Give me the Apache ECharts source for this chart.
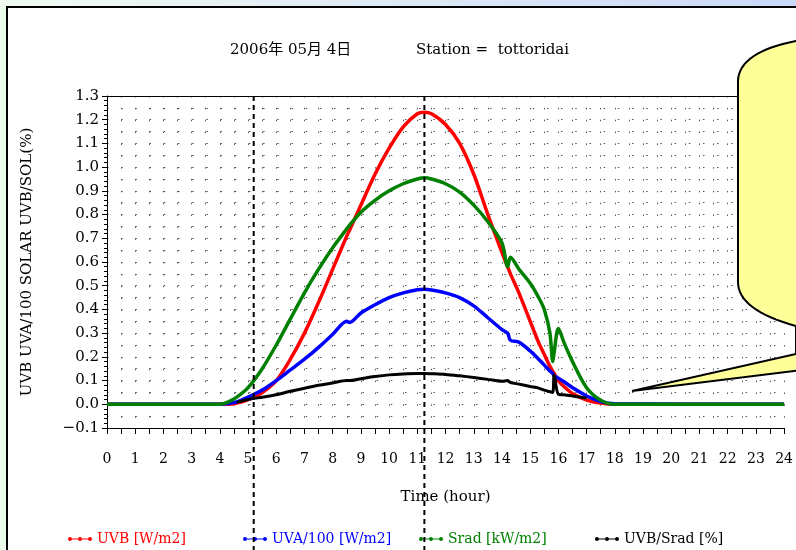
<!DOCTYPE html>
<html>
<head>
<meta charset="utf-8">
<script src="https://cdn.jsdelivr.net/npm/echarts@6.0.0/dist/echarts.min.js"></script>
<style>
  html, body { margin: 0; padding: 0; width: 796px; height: 550px; overflow: hidden; background: #eafbe9; }
  #topStrip { position: absolute; left: 0; top: 0; width: 796px; height: 6px;
    background: linear-gradient(to right, #f2fbf2, #c9d8f8); }
  #frame { position: absolute; left: 6px; top: 6px; width: 800px; height: 560px;
    border-left: 2px solid #000; border-top: 2px solid #000; background: #fff; }
  #chart { position: absolute; left: 0; top: 0; width: 796px; height: 550px; }
</style>
</head>
<body>
<div id="topStrip"></div>
<div id="frame"></div>
<div id="chart"></div>
<script>
// time of day (hour)
const hours = [0, 4, 4.3, 4.6, 5, 5.5, 6, 6.5, 7, 7.5, 8, 8.5, 8.6, 9, 9.5, 10, 10.5, 11, 11.25, 11.5,
  12, 12.5, 13, 13.5, 14, 14.2, 14.3, 14.6, 15, 15.3, 15.5, 15.7, 15.8, 15.85, 16, 16.2, 16.5, 17, 17.5, 18, 24]

// UVB [W/m2]
const uvb = [0, 0, 0, 0.005, 0.02, 0.05, 0.1, 0.19, 0.3, 0.43, 0.57, 0.71, 0.735, 0.84, 0.97, 1.08, 1.17, 1.225, 1.232, 1.225,
  1.18, 1.1, 0.97, 0.8, 0.64, 0.58, 0.55, 0.47, 0.35, 0.26, 0.21, 0.16, 0.14, 0.13, 0.1, 0.075, 0.045, 0.018, 0.005, 0, 0]

// UVA/100 [W/m2]
const uva = [0, 0, 0.003, 0.01, 0.03, 0.06, 0.1, 0.145, 0.19, 0.24, 0.295, 0.35, 0.345, 0.385, 0.42, 0.45, 0.47, 0.483, 0.485, 0.482,
  0.47, 0.45, 0.415, 0.365, 0.315, 0.3, 0.27, 0.262, 0.225, 0.19, 0.165, 0.14, 0.13, 0.12, 0.11, 0.095, 0.07, 0.035, 0.012, 0.002, 0]

// Srad [kW/m2]
const srad = [0, 0, 0.01, 0.03, 0.07, 0.15, 0.25, 0.36, 0.47, 0.57, 0.66, 0.74, 0.755, 0.81, 0.86, 0.9, 0.93, 0.95, 0.955, 0.95,
  0.93, 0.895, 0.84, 0.77, 0.68, 0.58, 0.62, 0.57, 0.51, 0.45, 0.4, 0.3, 0.18, 0.22, 0.32, 0.26, 0.18, 0.07, 0.017, 0, 0]

// UVB/Srad [%]
const ratio = [null, null, null, 0.008, 0.02, 0.03, 0.04, 0.055, 0.068, 0.08, 0.09, 0.1, 0.1, 0.108, 0.117, 0.124, 0.128, 0.13, 0.13, 0.129,
  0.126, 0.12, 0.113, 0.105, 0.097, 0.1, 0.092, 0.085, 0.075, 0.068, 0.06, 0.053, 0.05, 0.125, 0.042, 0.04, 0.035, 0.026, null, null, null]

const seriesNames = ["UVB [W/m2]", "UVA/100 [W/m2]", "Srad [kW/m2]", "UVB/Srad [%]"]
const seriesColors = ["#ff0000", "#0000ff", "#008000", "#000000"]
const seriesValues = [uvb, uva, srad, ratio]
const legendLeft = [63, 238, 414, 590]

// sunrise / noon markers
const markHours = [5.2, 11.25]

const font = "DejaVu Serif, 'Noto Sans CJK JP', serif"
const legendIcon = "path://M0,1.5H24V2.5H0Z M0,2a2,2 0 1,1 4,0a2,2 0 1,1 -4,0Z M10,2a2,2 0 1,1 4,0a2,2 0 1,1 -4,0Z M20,2a2,2 0 1,1 4,0a2,2 0 1,1 -4,0Z"

const chart = echarts.init(document.getElementById("chart"))

chart.setOption({
  animation: false,
  textStyle: { fontFamily: font },
  title: [
    { text: "2006年 05月 4日", left: 225, top: 38, textStyle: { fontFamily: font, fontSize: 15, fontWeight: "normal", color: "#000" } },
    { text: "Station =  tottoridai", left: 411, top: 38, textStyle: { fontFamily: font, fontSize: 15, fontWeight: "normal", color: "#000" } }
  ],
  legend: seriesNames.map((n, i) => ({
    left: legendLeft[i],
    top: 527,
    itemWidth: 24,
    itemHeight: 4,
    icon: legendIcon,
    textStyle: { fontFamily: font, fontSize: 14, color: seriesColors[i] },
    data: [n]
  })),
  grid: { left: 107, top: 96, right: 8, bottom: 122 },
  xAxis: [
    {
      type: "value", position: "bottom", min: 0, max: 24, interval: 1,
      name: "Time (hour)", nameLocation: "middle", nameGap: 62,
      nameTextStyle: { fontFamily: font, fontSize: 15, color: "#000" },
      axisLine: { onZero: false, lineStyle: { color: "#000", width: 1 } },
      axisTick: { length: 6, lineStyle: { color: "#000" } },
      minorTick: { show: true, splitNumber: 2, length: 6, lineStyle: { color: "#000" } },
      axisLabel: { margin: 24, fontFamily: font, fontSize: 14, color: "#000" },
      splitLine: { show: false }
    },
    {
      type: "value", position: "top", min: 0, max: 24, interval: 0.5,
      axisLine: { show: true, onZero: false, lineStyle: { color: "#000", width: 1 } },
      axisTick: { show: false },
      axisLabel: { show: false },
      splitLine: { show: true, lineStyle: { color: "#555", width: 1, type: [1.5, 10.36] } }
    }
  ],
  yAxis: [
    {
      type: "value", position: "left", min: -0.1, max: 1.3, interval: 0.1,
      name: "UVB UVA/100 SOLAR UVB/SOL(%)", nameLocation: "middle", nameGap: 72,
      nameTextStyle: { fontFamily: font, fontSize: 15, color: "#000" },
      axisLine: { show: true, onZero: false, lineStyle: { color: "#000", width: 1 } },
      axisTick: { show: true, length: 5, lineStyle: { color: "#000" } },
      minorTick: { show: true, splitNumber: 5, length: 3, lineStyle: { color: "#000" } },
      axisLabel: {
        margin: 8, fontFamily: font, fontSize: 15, color: "#000",
        formatter: v => (v < 0 ? "\u2212" + Math.abs(v).toFixed(1) : v.toFixed(1))
      },
      splitLine: { show: false }
    },
    {
      type: "value", position: "right", min: -0.1, max: 1.3, interval: 0.05,
      axisLine: { show: false },
      axisTick: { show: false },
      axisLabel: { show: false },
      splitLine: { show: true, lineStyle: { color: "#555", width: 1, type: [1.5, 12.69] } }
    }
  ],
  series: seriesNames.map((n, i) => ({
    name: n,
    type: "line",
    xAxisIndex: 0,
    yAxisIndex: 0,
    data: hours.map((h, k) => [h, seriesValues[i][k]]),
    smooth: 0.3,
    showSymbol: false,
    symbol: "circle",
    connectNulls: false,
    color: seriesColors[i],
    lineStyle: { color: seriesColors[i], width: i === 3 ? 3 : 3.5 }
  }))
})

// dashed markers
const gridTop = chart.convertToPixel({ yAxisIndex: 0 }, 1.3)
const markLines = markHours.map(h => {
  const x = chart.convertToPixel({ xAxisIndex: 0 }, h)
  return {
    type: "line", z: 50,
    shape: { x1: x, y1: gridTop, x2: x, y2: 550 },
    style: { stroke: "#000", lineWidth: 2, lineDash: [5, 4] }
  }
})

// callout bubble outline (quadratic corners sampled into a polygon)
function quad(p0, c, p2, n) {
  const pts = []
  for (let i = 1; i <= n; i++) {
    const t = i / n, u = 1 - t
    pts.push([u * u * p0[0] + 2 * u * t * c[0] + t * t * p2[0], u * u * p0[1] + 2 * u * t * c[1] + t * t * p2[1]])
  }
  return pts
}
const bubble = [[632, 391], [796, 354], [796, 326]]
  .concat(quad([796, 326], [738, 310], [738, 282], 16))
  .concat([[738, 80]])
  .concat(quad([738, 80], [740, 52], [796, 41], 16))
  .concat([[802, 41], [802, 370]])

chart.setOption({
  graphic: markLines.concat([
    {
      type: "polygon", z: 100,
      shape: { points: bubble },
      style: { fill: "#ffff99", stroke: "#000", lineWidth: 2 }
    }
  ])
})
</script>
</body>
</html>
